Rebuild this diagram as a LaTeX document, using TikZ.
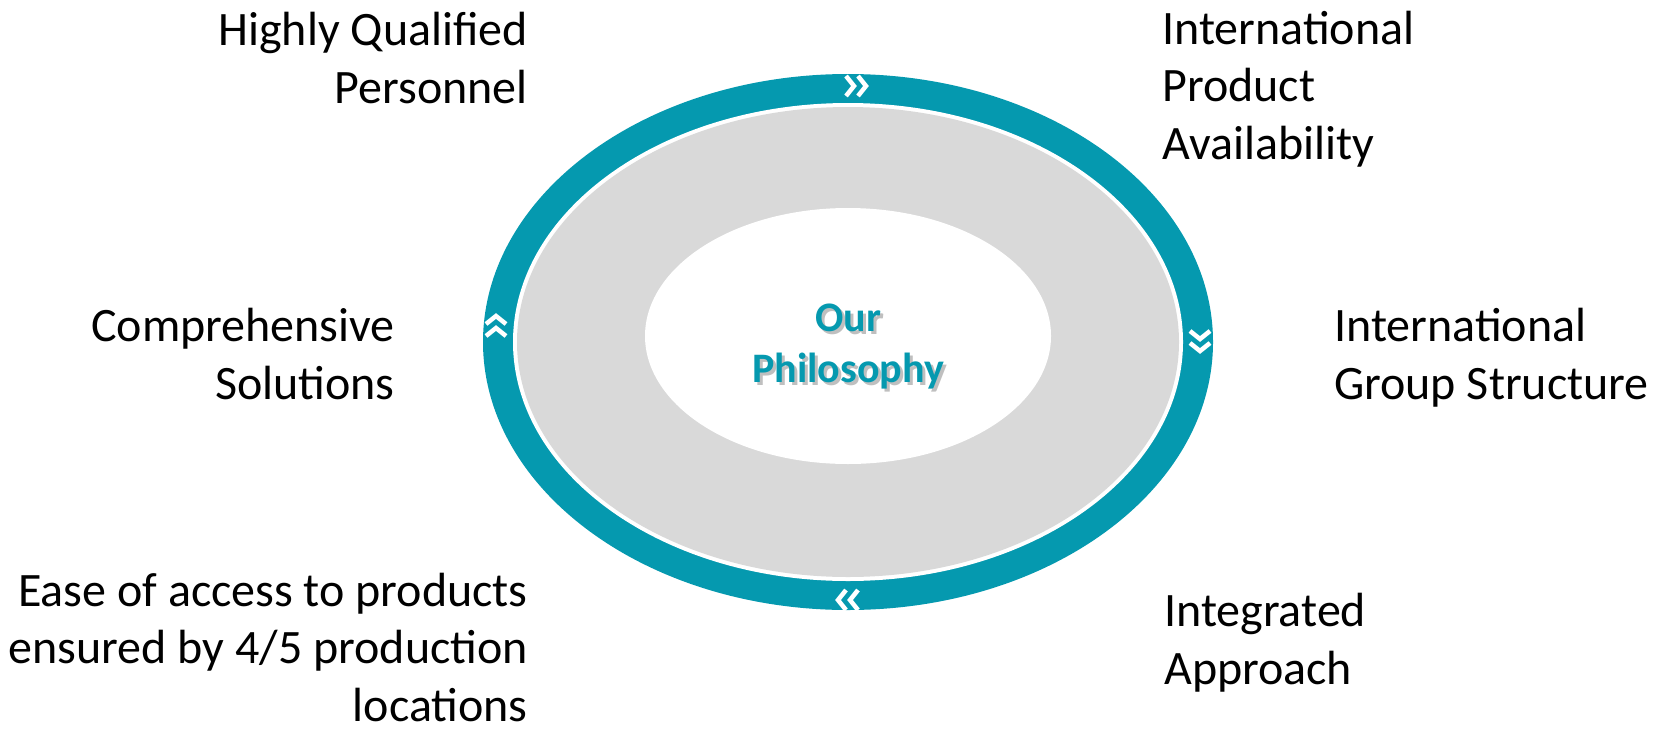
\documentclass[tikz,border=0pt]{standalone}
\usepackage{fontspec}
\setmainfont{Carlito}
\definecolor{ringteal}{RGB}{5,153,175}
\definecolor{ringgray}{RGB}{217,217,217}
\begin{document}
\begin{tikzpicture}[x=1pt,y=-1pt,line join=round,line cap=round,
    lbl/.style={inner sep=0pt,font=\fontsize{48}{57.5}\selectfont},
    chevs/.pic={\draw[white,line width=4.5pt,line join=miter,line cap=butt] (-12,-10)--(-4,0)--(-12,10) (0,-10)--(8,0)--(0,10);}]
    \useasboundingbox (0,0) rectangle (1664,734);
    \fill[ringteal] (848,342) ellipse [x radius=365,y radius=268];
    \fill[white] (848,342) ellipse [x radius=335,y radius=239];
    \fill[ringgray] (848,342) ellipse [x radius=331,y radius=235];
    \fill[white] (848,336) ellipse [x radius=203,y radius=128];
    \pic at (858,86) {chevs};
    \pic[rotate=-90] at (1200,343) {chevs};
    \pic[rotate=180] at (846,600) {chevs};
    \pic[rotate=90] at (496,324) {chevs};
    \node[font=\fontsize{42}{51}\bfseries,text=black!25,align=center] (philshadow) at (851,350) {Our\\Philosophy};
    \node[font=\fontsize{42}{51}\bfseries,text=ringteal,align=center] (phil) at (848,347) {Our\\Philosophy};
    \node[lbl,align=right,anchor=base east] (staff) at (528,103) {Highly Qualified\\Personnel};
    \node[lbl,align=left,anchor=base west] (avail) at (1162,159) {International\\Product\\Availability};
    \node[lbl,align=right,anchor=base east] (solut) at (395,399) {Comprehensive\\Solutions};
    \node[lbl,align=left,anchor=base west] (group) at (1334,399) {International\\Group Structure};
    \node[lbl,align=right,anchor=base east] (access) at (528,721) {Ease of access to products\\ensured by 4/5 production\\locations};
    \node[lbl,align=left,anchor=base west] (integr) at (1164,684) {Integrated\\Approach};
\end{tikzpicture}
\end{document}
